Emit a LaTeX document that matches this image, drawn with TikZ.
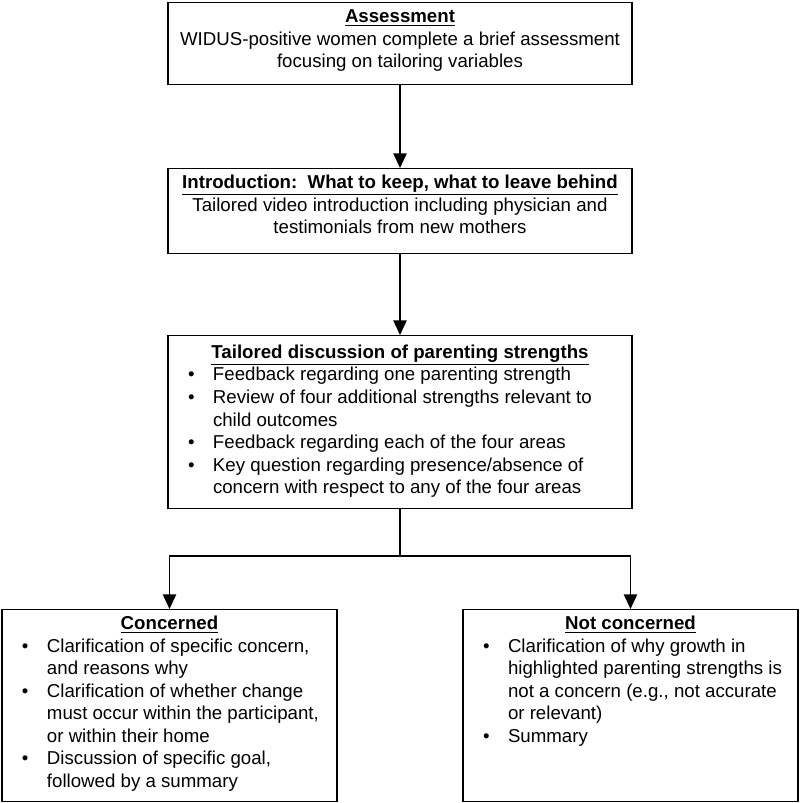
\documentclass[tikz,border=0pt]{standalone}
\usepackage{fontspec}
\setmainfont{Liberation Sans}
\usetikzlibrary{arrows.meta}

\newcommand{\boxtitle}[2][15pt]{{\centering\rule{0pt}{#1}\underline{\textbf{#2}}\par}}
\newcommand{\bitem}[1]{\par\hangindent=33.75pt\hangafter=1\noindent\hspace*{15pt}\makebox[18.75pt][l]{\textbullet}#1}
\newcommand{\boxbody}[3]{\begin{minipage}[t][#2][t]{#1}\fontsize{14}{16.9}\selectfont #3\end{minipage}}

\begin{document}
\begin{tikzpicture}[x=0.75pt,y=-0.75pt,
  box/.style={draw, line width=1.1pt, inner sep=0pt, anchor=north},
  link/.style={line width=1.1pt, -{Triangle[width=10pt,length=11pt]}}]
\useasboundingbox (0,0) rectangle (800,803);

\node [box] (assess) at (400,2) {\boxbody{348pt}{61.5pt}{\centering
  \rule{0pt}{15pt}\underline{\textbf{Assessment}}\\
  WIDUS-positive women complete a brief assessment\\
  focusing on tailoring variables}};

\node [box] (intro) at (400,168) {\boxbody{348pt}{63.75pt}{\centering
  \rule{0pt}{15pt}\underline{\textbf{Introduction:\ \ What to keep, what to leave behind}}\\
  Tailored video introduction including physician and\\
  testimonials from new mothers}};

\node [box] (discuss) at (400,335) {\boxbody{348pt}{129.75pt}{%
  \boxtitle[17pt]{Tailored discussion of parenting strengths}
  \raggedright
  \bitem{Feedback regarding one parenting strength}
  \bitem{Review of four additional strengths relevant to\newline child outcomes}
  \bitem{Feedback regarding each of the four areas}
  \bitem{Key question regarding presence/absence of\newline concern with respect to any of the four areas}}};

\node [box] (concern) at (169.5,609) {\boxbody{251.25pt}{144pt}{%
  \boxtitle{Concerned}
  \raggedright
  \bitem{Clarification of specific concern,\newline and reasons why}
  \bitem{Clarification of whether change\newline must occur within the participant,\newline or within their home}
  \bitem{Discussion of specific goal,\newline followed by a summary}}};

\node [box] (notconc) at (630.5,609) {\boxbody{251.25pt}{144pt}{%
  \boxtitle{Not concerned}
  \raggedright
  \bitem{Clarification of why growth in\newline highlighted parenting strengths is\newline not a concern (e.g., not accurate\newline or relevant)}
  \bitem{Summary}}};

\draw [link] (assess.south) -- (intro.north);
\draw [link] (intro.south) -- (discuss.north);

% split to the two outcomes
\coordinate (split) at (400,556);
\draw [link] (discuss.south) -- (split) -| (concern.north);
\draw [link] (discuss.south) -- (split) -| (notconc.north);
\end{tikzpicture}
\end{document}
